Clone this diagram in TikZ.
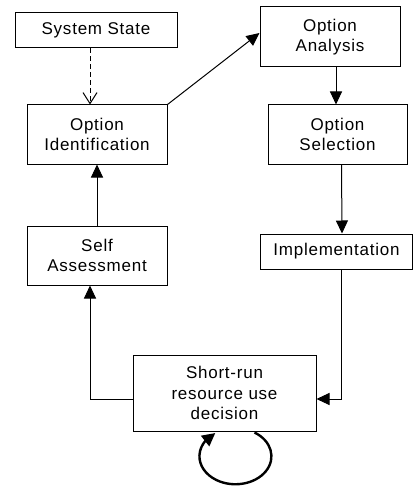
\documentclass[tikz,border=0pt]{standalone}
\usepackage{fontspec}
\usetikzlibrary{arrows.meta,positioning,bending}
\newfontfamily\boxfont{Liberation Sans}[LetterSpace=4.5]

\begin{document}
\begin{tikzpicture}[
  x=1pt,y=-1pt,
  >=Triangle,
  flow/.style={-{Triangle[length=13pt,width=12pt]},line width=1pt,draw=black},
  dashflow/.style={-{Straight Barb[length=11pt,width=14pt]},line width=1pt,dash pattern=on 5pt off 3pt},
  loopflow/.style={-{Triangle[length=13pt,width=13pt,flex]},line width=2.4pt},
  box/.style={draw=black,line width=1pt,fill=white,align=center,inner sep=0pt,
    font=\boxfont\fontsize{17}{20.5}\selectfont}
]
\useasboundingbox (0,0) rectangle (414,489);
\node[box,minimum width=162pt,minimum height=35pt] (sysstate) at (96,30.5) {System State};
\node[box,minimum width=140pt,minimum height=59pt] (optid) at (97,134.5) {Option\\Identification};
\node[box,minimum width=140pt,minimum height=60pt] (optana) at (330,37) {Option\\Analysis};
\node[box,minimum width=139pt,minimum height=59pt] (optsel) at (337.5,134.5) {Option\\Selection};
\node[box,minimum width=152pt,minimum height=35pt] (impl) at (336.5,251.5) {Implementation};
\node[box,minimum width=140pt,minimum height=59pt] (selfass) at (97,255.5) {Self\\Assessment};
\node[box,minimum width=183pt,minimum height=76pt] (decision) at (224.5,393) {Short-run\\resource use\\decision};
\draw[dashflow] ([xshift=-6pt]sysstate.south) -- ([xshift=-7pt]optid.north);
\draw[flow] (optid.north east) -- ([yshift=4pt]optana.west);
\draw[flow] ([xshift=6pt]optana.south) -- ([xshift=-1.5pt]optsel.north);
\draw[flow] ([xshift=4pt]optsel.south) -- ([xshift=5.5pt]impl.north);
\draw[flow] ([xshift=5pt]impl.south) |- ([yshift=-6pt]decision.east);
\draw[flow] ([yshift=-6pt]decision.west) -| ([xshift=-7pt]selfass.south);
\draw[flow] (selfass.north) -- (optid.south);
% loop under the decision box
\draw[loopflow] ([xshift=30pt,yshift=-1pt]decision.south)
  arc[start angle=-58,end angle=236,x radius=36,y radius=28];
\end{tikzpicture}
\end{document}
